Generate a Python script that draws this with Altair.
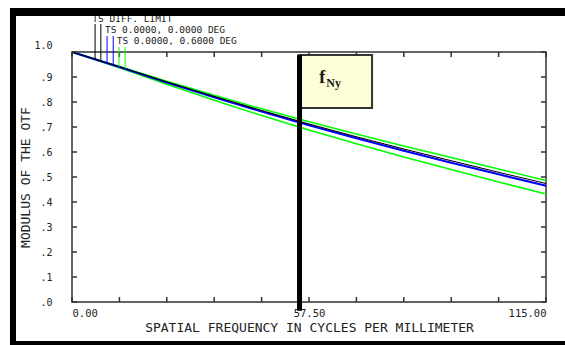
import altair as alt
import pandas as pd

# ---- data ----
freq = [0, 11.5, 23, 34.5, 46, 57.5, 69, 80.5, 92, 103.5, 115]
diff_limit = [1.000, 0.941, 0.880, 0.822, 0.766, 0.712, 0.661, 0.612, 0.565, 0.519, 0.474]
field_00 = [1.000, 0.940, 0.878, 0.819, 0.762, 0.707, 0.655, 0.605, 0.557, 0.511, 0.465]
field_06_t = [1.000, 0.942, 0.883, 0.827, 0.773, 0.721, 0.672, 0.624, 0.578, 0.532, 0.486]
field_06_s = [1.000, 0.937, 0.871, 0.807, 0.746, 0.688, 0.633, 0.580, 0.530, 0.480, 0.432]

x_ticks = [0, 11.5, 23, 34.5, 46, 57.5, 69, 80.5, 92, 103.5, 115]
y_ticks = [0, 0.1, 0.2, 0.3, 0.4, 0.5, 0.6, 0.7, 0.8, 0.9, 1.0]
x_label_values = [0, 57.5, 115]

leg_labels = ["TS DIFF. LIMIT", "TS 0.0000, 0.0000 DEG", "TS 0.0000, 0.6000 DEG"]
leg_label_x = [4.93, 7.99, 10.84]
leg_label_y = [1.12, 1.076, 1.032]

leg_line_x = [5.6, 7.0, 8.5, 10.0, 11.4, 12.9]
leg_line_top = [1.112, 1.112, 1.064, 1.064, 1.02, 1.02]
leg_line_bottom = [0.971, 0.964, 0.956, 0.949, 0.941, 0.934]
leg_line_color = ["#000000", "#000000", "#0000ff", "#0000ff", "#00ff00", "#00ff00"]

fny_x = [55.2]
fny_top = [0.988]
fny_bottom = [-0.035]
box_x = [55.0]
box_x2 = [72.8]
box_y = [0.988]
box_y2 = [0.776]
fny_main = ["f"]
fny_main_x = [60.0]
fny_main_y = [0.876]
fny_sub = ["Ny"]
fny_sub_x = [61.7]
fny_sub_y = [0.862]

# ---- scales / axes ----
xs = alt.Scale(domain=[0, 115], nice=False, zero=False)
ys = alt.Scale(domain=[0, 1], nice=False, zero=False)
xax = alt.Axis(
    title="SPATIAL FREQUENCY IN CYCLES PER MILLIMETER",
    values=x_label_values, format=".2f", labelFlush=True, labelFontSize=10.5,
    labelPadding=6, titlePadding=3,
)
yax = alt.Axis(
    title="MODULUS OF THE OTF",
    values=y_ticks,
    labelExpr="datum.value >= 1 ? '1.0' : replace(format(datum.value, '.1f'), '0.', '.')",
    labelPadding=20, titlePadding=1,
    labelOffset={"condition": {"test": "datum.value >= 1", "value": -7}, "value": 0},
)


def X(f):
    return alt.X(f, type="quantitative", scale=xs, axis=xax)


def Y(f):
    return alt.Y(f, type="quantitative", scale=ys, axis=yax)


layers = []

# curves (drawn bottom to top)
for vals, col, w in [
    (field_06_s, "#00ff00", 1.5),
    (field_06_t, "#00ff00", 1.5),
    (field_00, "#0000ff", 2.2),
    (diff_limit, "#000000", 1.1),
]:
    df = pd.DataFrame({"f": freq, "v": vals})
    layers.append(alt.Chart(df).mark_line(color=col, strokeWidth=w).encode(x=X("f"), y=Y("v")))

# inward ticks on all four sides
xt = pd.DataFrame({"f": x_ticks})
yt = pd.DataFrame({"v": y_ticks})
tick_style = dict(color="#333333", strokeWidth=1.5)
layers.append(alt.Chart(xt).mark_rule(**tick_style).encode(x=X("f"), y=alt.value(0), y2=alt.value(5)))
layers.append(alt.Chart(xt).mark_rule(**tick_style).encode(x=X("f"), y=alt.value(250), y2=alt.value(245)))
layers.append(alt.Chart(yt).mark_rule(**tick_style).encode(y=Y("v"), x=alt.value(0), x2=alt.value(5)))
layers.append(alt.Chart(yt).mark_rule(**tick_style).encode(y=Y("v"), x=alt.value(474), x2=alt.value(469)))

# legend marker lines and labels
leg_df = pd.DataFrame({"f": leg_line_x, "v": leg_line_top, "v2": leg_line_bottom, "c": leg_line_color})
layers.append(
    alt.Chart(leg_df).mark_rule(strokeWidth=1).encode(
        x=X("f"), y=Y("v"), y2="v2", color=alt.Color("c:N", scale=None)
    )
)
lab_df = pd.DataFrame({"f": leg_label_x, "v": leg_label_y, "t": leg_labels})
layers.append(
    alt.Chart(lab_df).mark_text(
        font="DejaVu Sans Mono", fontSize=9.5, align="left", baseline="alphabetic", color="#222222"
    ).encode(x=X("f"), y=Y("v"), text="t:N")
)

# f_Ny annotation box and bar
box_df = pd.DataFrame({"f": box_x, "f2": box_x2, "v": box_y, "v2": box_y2})
layers.append(
    alt.Chart(box_df).mark_rect(fill="#fdfdd8", stroke="#333333", strokeWidth=2).encode(
        x=X("f"), x2="f2", y=Y("v"), y2="v2"
    )
)
bar_df = pd.DataFrame({"f": fny_x, "v": fny_top, "v2": fny_bottom})
layers.append(
    alt.Chart(bar_df).mark_rule(color="#000000", strokeWidth=5).encode(x=X("f"), y=Y("v"), y2="v2")
)
fm = pd.DataFrame({"f": fny_main_x, "v": fny_main_y, "t": fny_main})
layers.append(
    alt.Chart(fm).mark_text(
        font="Liberation Serif", fontWeight="bold", fontSize=18, align="left", baseline="alphabetic",
        color="#1a1a1a"
    ).encode(x=X("f"), y=Y("v"), text="t:N")
)
fs = pd.DataFrame({"f": fny_sub_x, "v": fny_sub_y, "t": fny_sub})
layers.append(
    alt.Chart(fs).mark_text(
        font="Liberation Serif", fontWeight="bold", fontSize=12, align="left", baseline="alphabetic",
        color="#1a1a1a"
    ).encode(x=X("f"), y=Y("v"), text="t:N")
)

# black picture border (top, left, bottom)
one = pd.DataFrame({"a": [0]})
layers.append(alt.Chart(one).mark_rect(color="black").encode(
    x=alt.value(-62), x2=alt.value(493), y=alt.value(-44), y2=alt.value(-36)))
layers.append(alt.Chart(one).mark_rect(color="black").encode(
    x=alt.value(-62), x2=alt.value(-56), y=alt.value(-44), y2=alt.value(293)))
layers.append(alt.Chart(one).mark_rect(color="black").encode(
    x=alt.value(-62), x2=alt.value(493), y=alt.value(289), y2=alt.value(293)))

chart = (
    alt.layer(*layers)
    .properties(
        width=474, height=250,
        autosize=alt.AutoSizeParams(type="none"),
        padding={"left": 72, "top": 52, "right": 19, "bottom": 43},
        background="white",
    )
    .configure_view(stroke="#333333", strokeWidth=1.5, fill="white")
    .configure_axis(
        labelFont="DejaVu Sans Mono", labelFontSize=10, labelColor="#222222",
        titleFont="DejaVu Sans Mono", titleFontSize=13, titleFontWeight="normal", titleColor="#222222",
        grid=False, domain=False, ticks=False, tickSize=0,
    )
)

chart.save("out.html", embed_options={"renderer": "svg", "actions": False})
